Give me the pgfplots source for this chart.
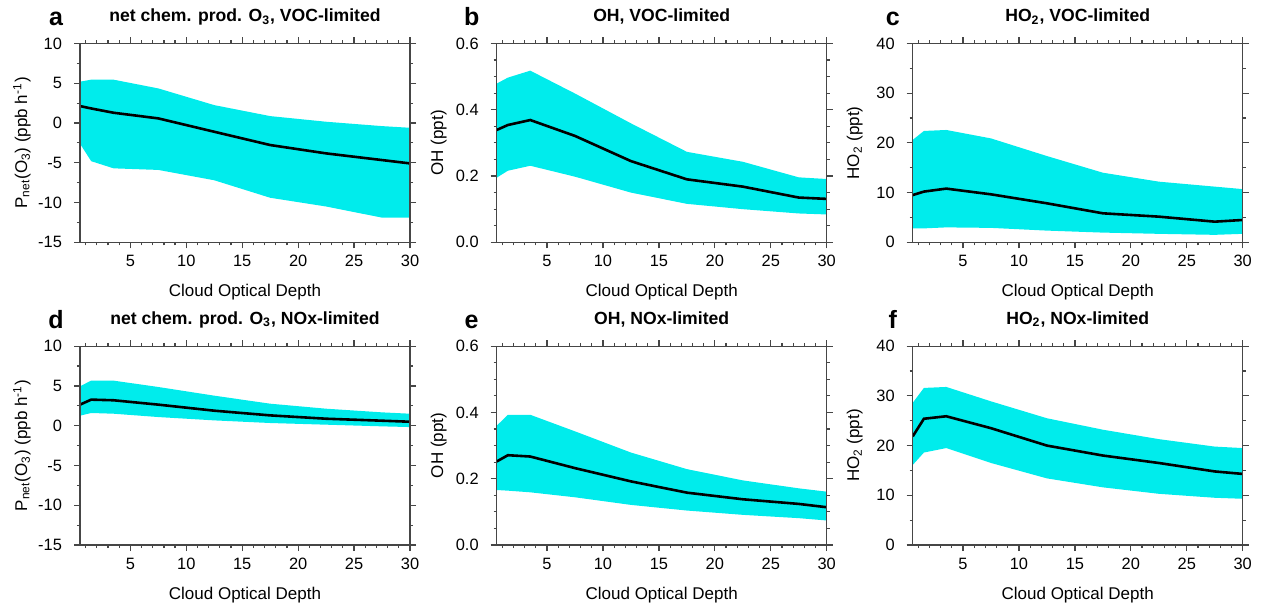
\documentclass[border=0pt]{standalone}
\usepackage{pgfplots}
\usepackage{pgfplotstable}
\pgfplotsset{compat=1.18}
\usepackage{fontspec}
\setmainfont{Liberation Sans}

\definecolor{band}{RGB}{0,236,236}
\definecolor{frame}{RGB}{70,70,70}

% mean curves: x = cloud optical depth
\pgfplotstableread{
x a b c d e f
0.5 2.13 0.339 9.5 2.65 0.252 21.85
1.5 1.83 0.354 10.2 3.28 0.271 25.4
3.5 1.29 0.369 10.8 3.2 0.267 25.9
7.5 0.58 0.321 9.65 2.65 0.232 23.5
12.5 -1.1 0.245 7.84 1.89 0.192 20.0
17.5 -2.77 0.190 5.83 1.3 0.158 18.0
22.5 -3.82 0.168 5.16 0.88 0.138 16.5
27.5 -4.66 0.135 4.15 0.63 0.124 14.8
30 -5.08 0.131 4.49 0.5 0.114 14.3
}\means

% spread bands: upper edge left to right, then lower edge right to left
\pgfplotstableread{
x a b c d e f
0.5 5.2 0.479 20.6 4.96 0.360 28.6
1.5 5.45 0.497 22.4 5.67 0.393 31.6
3.5 5.45 0.518 22.6 5.67 0.393 31.8
7.5 4.35 0.449 20.9 4.87 0.343 28.9
12.5 2.25 0.359 17.35 3.78 0.279 25.5
17.5 0.87 0.273 14.0 2.77 0.229 23.2
22.5 0.16 0.243 12.2 2.14 0.195 21.3
27.5 -0.39 0.196 11.2 1.68 0.171 19.8
30 -0.6 0.191 10.7 1.51 0.161 19.5
30 -11.9 0.084 1.7 -0.17 0.074 9.3
27.5 -11.9 0.087 1.5 -0.08 0.081 9.5
22.5 -10.5 0.100 1.7 0.13 0.091 10.3
17.5 -9.4 0.116 1.95 0.34 0.104 11.6
12.5 -7.2 0.150 2.35 0.67 0.121 13.4
7.5 -5.9 0.198 2.9 1.09 0.144 16.5
3.5 -5.7 0.231 3.0 1.51 0.159 19.5
1.5 -4.8 0.216 2.8 1.6 0.164 18.6
0.5 -2.6 0.195 2.8 1.26 0.166 16.1
}\bands

\pgfplotsset{
  panel/.style={
    scale only axis, width=165pt, height=99.4pt, anchor=south west,
    xmin=0.5, xmax=30, xtick={5,10,...,30}, minor xtick={1,2,...,30},
    tick align=outside, xtick pos=both, ytick pos=both,
    major tick length=3pt, minor tick length=1.6pt,
    axis line style={frame, line width=0.6pt},
    every tick/.style={frame, line width=0.6pt},
    axis on top, clip mode=individual,
    /pgf/number format/assume math mode=true,
    tick label style={font=\fontsize{8.2}{9}\selectfont},
    xticklabel pos=left, yticklabel pos=left,
    yticklabel style={xshift=-2.5pt},
    xlabel={Cloud Optical Depth},
    xlabel style={at={(axis description cs:0.5,-0.2747)}, anchor=base,
      font=\fontsize{8.5}{10}\selectfont},
    ylabel style={at={(axis description cs:-0.1758,0.5)}, anchor=center,
      font=\fontsize{8.5}{10}\selectfont},
    every axis title shift=0pt,
    title style={at={(axis description cs:0.5,1.1097)}, anchor=base,
      font=\bfseries\fontsize{8.8}{10}\selectfont},
  },
  o3/.style={ymin=-15, ymax=10, ytick={-15,-10,...,10}, minor ytick={-15,-12.5,...,10},
    ylabel={P\textsubscript{net}(O\textsubscript{3}) (ppb h\textsuperscript{-1})}},
  oh/.style={ymin=0, ymax=0.6, ytick={0,0.2,0.4,0.6}, minor ytick={0,0.05,...,0.6},
    yticklabel style={/pgf/number format/.cd, fixed, fixed zerofill, precision=1},
    ylabel={OH (ppt)}},
  ho2/.style={ymin=0, ymax=40, ytick={0,10,...,40}, minor ytick={0,5,...,40},
    ylabel={HO\textsubscript{2} (ppt)}},
}

\newcommand{\bandplot}[1]{%
  \addplot[fill=band, draw=none] table[x=x, y=#1] {\bands} -- cycle;
  \addplot[black, line width=1.3pt] table[x=x, y=#1] {\means};
}
\newcommand{\letter}[2]{%
  \node[anchor=base, font=\bfseries\fontsize{12.5}{14}\selectfont]
    at (rel axis cs:#2,1.0905) {#1};
}

\begin{document}
\begin{tikzpicture}
\path[use as bounding box] (0,0) rectangle (630.5pt,304.5pt);

\begin{axis}[panel, o3, at={(40pt,183.35pt)}, title={net chem. prod. O\textsubscript{3}, VOC-limited}]
\bandplot{a}
\letter{a}{-0.0727}
\end{axis}

\begin{axis}[panel, oh, at={(248.35pt,183.35pt)}, title={OH, VOC-limited}]
\bandplot{b}
\letter{b}{-0.0758}
\end{axis}

\begin{axis}[panel, ho2, at={(456.35pt,183.35pt)}, title={HO\textsubscript{2}, VOC-limited}]
\bandplot{c}
\letter{c}{-0.0606}
\end{axis}

\begin{axis}[panel, o3, at={(40pt,32pt)}, title={net chem. prod. O\textsubscript{3}, NOx-limited}]
\bandplot{d}
\letter{d}{-0.0727}
\end{axis}

\begin{axis}[panel, oh, at={(248.35pt,32pt)}, title={OH, NOx-limited}]
\bandplot{e}
\letter{e}{-0.0758}
\end{axis}

\begin{axis}[panel, ho2, at={(456.35pt,32pt)}, title={HO\textsubscript{2}, NOx-limited}]
\bandplot{f}
\letter{f}{-0.0606}
\end{axis}
\end{tikzpicture}
\end{document}
